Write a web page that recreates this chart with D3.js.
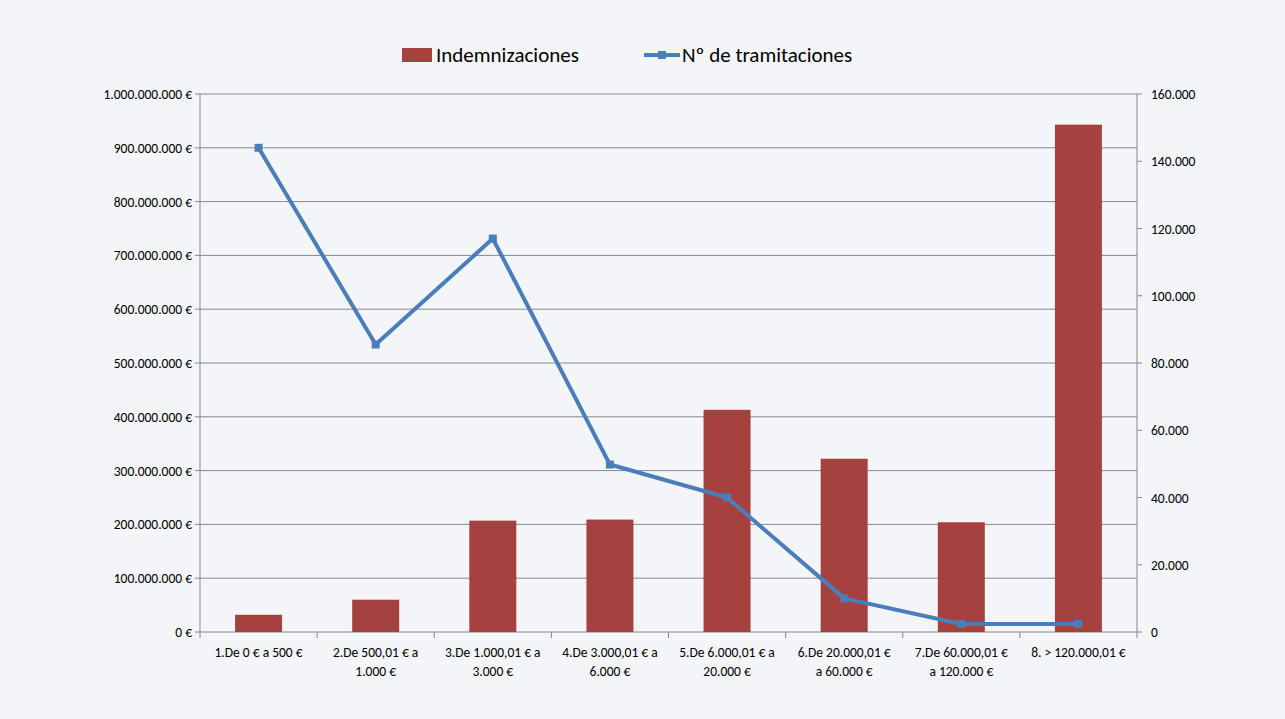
<!DOCTYPE html>
<html><head><meta charset="utf-8">
<script src="https://cdn.jsdelivr.net/npm/d3@7"></script>
<style>body{margin:0;background:#f3f5f8;font-family:Calibri,"Liberation Sans",Arial,sans-serif}</style>
</head><body><svg id="c" width="1285" height="719"></svg>
<script>
const categories = [["1.De 0 € a 500 €"],["2.De 500,01 € a","1.000 €"],["3.De 1.000,01 € a","3.000 €"],["4.De 3.000,01 € a","6.000 €"],["5.De 6.000,01 € a","20.000 €"],["6.De 20.000,01 €","a 60.000 €"],["7.De 60.000,01 €","a 120.000 €"],["8. > 120.000,01 €"]];
const indemnizaciones = [32000000, 60000000, 207000000, 209000000, 413000000, 322000000, 204000000, 943000000];
const tramitaciones = [144000, 85500, 117000, 49800, 40000, 10000, 2400, 2400];
const leftTicks = d3.range(0, 1000000001, 100000000);
const rightTicks = d3.range(0, 160001, 20000);

const svg = d3.select("#c");
const L=200,R=1137,T=94,B=632;
const x = d3.scaleBand().domain(d3.range(8)).range([L,R]);
const yL = d3.scaleLinear().domain([0,1e9]).range([B,T]);
const yR = d3.scaleLinear().domain([0,160000]).range([B,T]);
const fmt = d3.formatLocale({decimal:",",thousands:".",grouping:[3],currency:["","€"]}).format(",.0f");

svg.append("g").selectAll("line").data(leftTicks).join("line")
  .attr("x1",L).attr("x2",R).attr("y1",d=>yL(d)).attr("y2",d=>yL(d)).attr("stroke","#888").attr("stroke-width",1);
svg.append("line").attr("x1",L).attr("x2",L).attr("y1",T).attr("y2",B).attr("stroke","#888");
svg.append("line").attr("x1",R).attr("x2",R).attr("y1",T).attr("y2",B).attr("stroke","#888");
svg.append("g").selectAll("line").data(leftTicks).join("line").attr("x1",L-5).attr("x2",L).attr("y1",d=>yL(d)).attr("y2",d=>yL(d)).attr("stroke","#888");
svg.append("g").selectAll("line").data(rightTicks).join("line").attr("x1",R).attr("x2",R+5).attr("y1",d=>yR(d)).attr("y2",d=>yR(d)).attr("stroke","#888");
svg.append("g").selectAll("line").data(d3.range(9)).join("line").attr("x1",d=>L+d*x.step()).attr("x2",d=>L+d*x.step()).attr("y1",B).attr("y2",B+6).attr("stroke","#888");

svg.append("g").selectAll("text").data(leftTicks).join("text")
  .attr("x",L-8).attr("y",d=>yL(d)+5).attr("text-anchor","end").attr("font-size",13.5).attr("fill","#000")
  .text(d=>fmt(d)+" €");
svg.append("g").selectAll("text").data(rightTicks).join("text")
  .attr("x",R+14).attr("y",d=>yR(d)+5).attr("text-anchor","start").attr("font-size",13.5).attr("fill","#000")
  .text(d=>fmt(d));
const xl = svg.append("g").selectAll("text").data(categories).join("text")
  .attr("x",(d,i)=>x(i)+x.bandwidth()/2).attr("y",B+25).attr("text-anchor","middle").attr("font-size",13.5);
xl.each(function(d){d3.select(this).selectAll("tspan").data(d).join("tspan").attr("x",d3.select(this).attr("x")).attr("dy",(t,j)=>j?19:0).text(t=>t);});

const bw=47;
svg.append("g").selectAll("rect").data(indemnizaciones).join("rect")
  .attr("x",(d,i)=>x(i)+x.bandwidth()/2-bw/2).attr("width",bw).attr("y",d=>yL(d)).attr("height",d=>B-yL(d)).attr("fill","#a5423f");

const line=d3.line().x((d,i)=>x(i)+x.bandwidth()/2).y(d=>yR(d));
svg.append("path").datum(tramitaciones).attr("d",line).attr("fill","none").attr("stroke","#4a7ebb").attr("stroke-width",4).attr("stroke-linejoin","round");
svg.append("g").selectAll("rect").data(tramitaciones).join("rect")
  .attr("x",(d,i)=>x(i)+x.bandwidth()/2-4).attr("y",d=>yR(d)-4).attr("width",8).attr("height",8).attr("fill","#4a7ebb");

const lg=svg.append("g");
lg.append("rect").attr("x",402).attr("y",48).attr("width",30).attr("height",14).attr("fill","#a5423f");
lg.append("text").attr("x",436).attr("y",62).attr("font-size",21).text("Indemnizaciones");
lg.append("line").attr("x1",644).attr("x2",680).attr("y1",55).attr("y2",55).attr("stroke","#4a7ebb").attr("stroke-width",4);
lg.append("rect").attr("x",658).attr("y",51).attr("width",8).attr("height",8).attr("fill","#4a7ebb");
lg.append("text").attr("x",682).attr("y",62).attr("font-size",21).text("Nº de tramitaciones");
</script></body></html>
